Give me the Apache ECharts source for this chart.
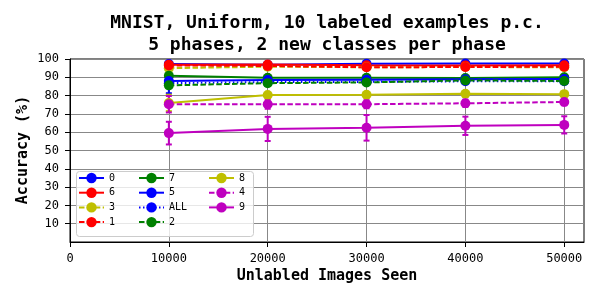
<!DOCTYPE html>
<html>
<head>
<meta charset="utf-8">
<script src="https://cdn.jsdelivr.net/npm/echarts@6/dist/echarts.min.js"></script>
<style>html,body{margin:0;padding:0;background:#fff;}#c{width:600px;height:300px;}</style>
</head>
<body>
<div id="c"></div>
<script>
const xValues = [10000, 20000, 30000, 40000, 50000];
const xTicks = [0, 10000, 20000, 30000, 40000, 50000];
const yTicks = [10, 20, 30, 40, 50, 60, 70, 80, 90, 100];

const names = ['0', '6', '3', '1', '7', '5', 'ALL', '2', '8', '4', '9'];
const acc0   = [97.3, 96.8, 97.4, 97.5, 97.5];
const acc6   = [96.8, 97.0, 96.6, 96.5, 96.6];
const acc3   = [95.0, 95.8, 95.5, 95.6, 95.5];
const acc1   = [96.5, 96.2, 95.5, 95.6, 95.8];
const acc7   = [90.8, 89.8, 89.8, 89.6, 90.0];
const acc5   = [88.0, 88.5, 88.7, 88.9, 89.1];
const accALL = [86.8, 87.4, 87.5, 87.8, 87.9];
const acc2   = [85.6, 86.8, 87.2, 88.3, 88.0];
const acc8   = [76.0, 80.3, 80.5, 81.0, 80.8];
const acc4   = [75.3, 75.3, 75.3, 75.8, 76.5];
const acc9   = [59.5, 61.8, 62.4, 63.5, 64.0];

const err0   = [1.0, 1.2, 1.5, 1.5, 1.5];
const err6   = [0.6, 0.6, 0.6, 0.6, 0.6];
const err3   = [1.0, 0.8, 0.8, 0.8, 0.8];
const err1   = [0.6, 0.6, 0.6, 0.6, 0.6];
const err7   = [0.8, 0.8, 0.8, 0.8, 0.8];
const err5   = [1.2, 1.0, 1.0, 1.0, 1.0];
const errALL = [5.5, 1.0, 1.0, 1.0, 1.0];
const err2   = [1.0, 1.0, 1.0, 1.0, 1.0];
const err8   = [4.5, 1.0, 1.0, 1.0, 1.0];
const err4   = [4.5, 2.5, 2.2, 2.0, 1.8];
const err9   = [6.2, 6.6, 7.0, 5.0, 4.7];

const accs = [acc0, acc6, acc3, acc1, acc7, acc5, accALL, acc2, acc8, acc4, acc9];
const errs = [err0, err6, err3, err1, err7, err5, errALL, err2, err8, err4, err9];
const colors = ['#0000ff', '#ff0000', '#bfbf00', '#ff0000', '#008000', '#0000ff', '#0000ff', '#008000', '#bfbf00', '#bf00bf', '#bf00bf'];
const DASH = [5.5, 2.4];
const DOT = [1.5, 2.5];
const styles = ['solid', 'solid', DASH, DASH, 'solid', 'solid', DOT, DASH, 'solid', DASH, 'solid'];

const FONT = 'DejaVu Sans Mono';

function errRender(color) {
  return function (params, api) {
    const x = api.value(0), y = api.value(1), e = api.value(2);
    const t = api.coord([x, y + e]);
    const b = api.coord([x, y - e]);
    const c = 3;
    const st = { stroke: color, lineWidth: 2 };
    return {
      type: 'group',
      children: [
        { type: 'line', shape: { x1: t[0], y1: t[1], x2: b[0], y2: b[1] }, style: st },
        { type: 'line', shape: { x1: t[0] - c, y1: t[1], x2: t[0] + c, y2: t[1] }, style: st },
        { type: 'line', shape: { x1: b[0] - c, y1: b[1], x2: b[0] + c, y2: b[1] }, style: st }
      ]
    };
  };
}

const series = [];
names.forEach(function (n, i) {
  series.push({
    name: n + '_err',
    type: 'custom',
    renderItem: errRender(colors[i]),
    data: xValues.map(function (x, k) { return [x, accs[i][k], errs[i][k]]; }),
    encode: { x: 0, y: 1 },
    clip: true,
    silent: true,
    z: 2
  });
  series.push({
    name: n,
    type: 'line',
    data: xValues.map(function (x, k) { return [x, accs[i][k]]; }),
    symbol: 'circle',
    symbolSize: 10,
    showSymbol: true,
    color: colors[i],
    lineStyle: { color: colors[i], width: 2, type: styles[i] },
    itemStyle: { color: colors[i], borderWidth: 0 },
    emphasis: { disabled: true },
    animation: false,
    z: 2
  });
});

function legendCol(left, data) {
  return {
    show: true,
    orient: 'vertical',
    left: left,
    top: 172,
    padding: 0,
    itemWidth: 25,
    itemHeight: 13,
    itemGap: 2.7,
    data: data,
    textStyle: { fontFamily: FONT, fontSize: 10, color: '#000', lineHeight: 12 },
    selectedMode: false,
    z: 20
  };
}

const option = {
  animation: false,
  backgroundColor: '#fff',
  title: {
    text: 'MNIST, Uniform, 10 labeled examples p.c.\n5 phases, 2 new classes per phase',
    left: 327,
    top: 12,
    padding: 0,
    textAlign: 'center',
    textStyle: { fontFamily: FONT, fontWeight: 'bold', fontSize: 18, lineHeight: 22, color: '#000' }
  },
  grid: { left: 70, right: 16, top: 59, bottom: 58, show: true, borderColor: '#000', borderWidth: 1, backgroundColor: 'transparent' },
  xAxis: {
    type: 'value', min: 0, max: 52000, interval: 10000,
    axisLine: { show: true, lineStyle: { color: '#000', width: 1 } },
    axisTick: { show: true, length: 5, inside: false, lineStyle: { color: '#000' }, customValues: xTicks },
    axisLabel: { show: true, margin: 11, fontFamily: FONT, fontSize: 12, color: '#000', customValues: xTicks, formatter: function (v) { return String(v); } },
    splitLine: { show: true, lineStyle: { color: '#888', width: 1 } }
  },
  yAxis: {
    type: 'value', min: 0, max: 100, interval: 10,
    axisLine: { show: true, lineStyle: { color: '#000', width: 1 } },
    axisTick: { show: true, length: 5, inside: false, lineStyle: { color: '#000' }, customValues: yTicks },
    axisLabel: { show: true, margin: 11, fontFamily: FONT, fontSize: 12, color: '#000', customValues: yTicks, formatter: function (v) { return String(v); } },
    splitLine: { show: true, lineStyle: { color: '#888', width: 1 } }
  },
  legend: [
    legendCol(78, ['0', '6', '3', '1']),
    legendCol(138, ['7', '5', 'ALL', '2']),
    legendCol(208, ['8', '4', '9'])
  ],
  graphic: [
    {
      type: 'rect', left: 76, top: 171, z: 10,
      shape: { width: 177, height: 65, r: 3 },
      style: { fill: 'rgba(255,255,255,0.8)', stroke: '#cccccc', lineWidth: 1 }
    },
    {
      type: 'text', x: 327, y: 276, z: 10,
      style: { text: 'Unlabled Images Seen', fontFamily: FONT, fontWeight: 'bold', fontSize: 15, fill: '#000', align: 'center', verticalAlign: 'middle' }
    },
    {
      type: 'text', x: 23, y: 150, rotation: Math.PI / 2, z: 10,
      style: { text: 'Accuracy (%)', fontFamily: FONT, fontWeight: 'bold', fontSize: 15, fill: '#000', align: 'center', verticalAlign: 'middle' }
    }
  ],
  series: series
};

const chart = echarts.init(document.getElementById('c'), null, { renderer: 'canvas' });
chart.setOption(option);
</script>
</body>
</html>
